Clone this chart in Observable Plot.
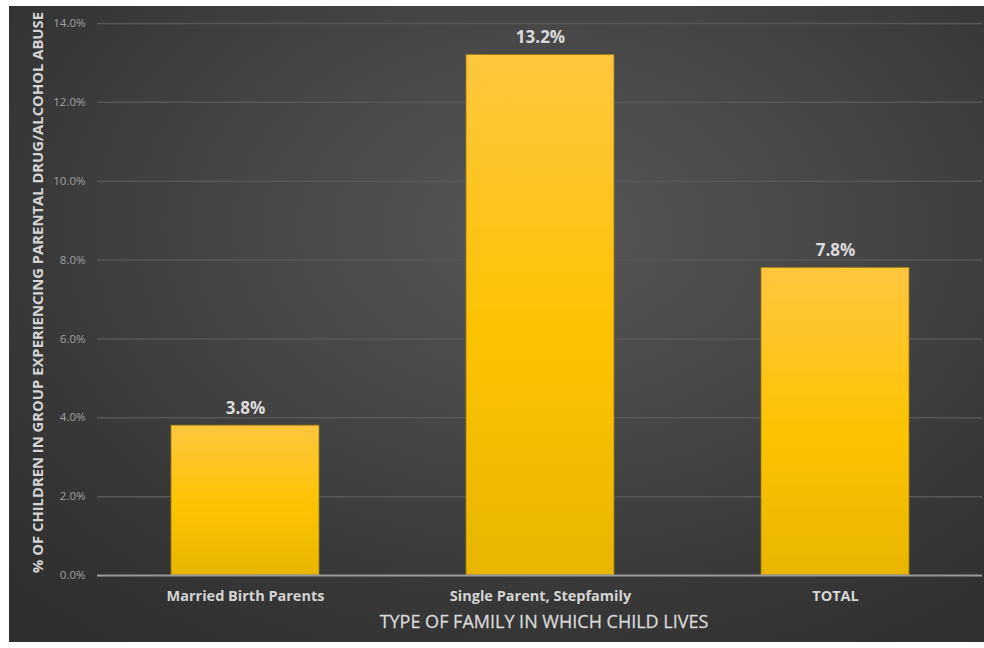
<!DOCTYPE html>
<html>
<head>
<meta charset="utf-8">
<script src="https://cdn.jsdelivr.net/npm/d3@7"></script>
<script src="https://cdn.jsdelivr.net/npm/@observablehq/plot@0.6"></script>
<style>
  html, body { margin: 0; padding: 0; background: #ffffff; }
  #wrap { position: relative; width: 984px; height: 648px; overflow: hidden; }
  #panel {
    position: absolute; left: 9px; top: 6px; width: 975px; height: 636px;
    background: radial-gradient(ellipse 75% 80% at 55% 35%, #565656 0%, #474747 40%, #373737 75%, #2f2f2f 100%);
  }
  #chart { position: absolute; left: 0; top: 0; }
</style>
</head>
<body>
<div id="wrap">
  <div id="panel"></div>
  <div id="chart"></div>
</div>
<script>
const categories = ["Married Birth Parents", "Single Parent, Stepfamily", "TOTAL"];
const values = [3.8, 13.2, 7.8];
const yTicks = [0, 2, 4, 6, 8, 10, 12, 14];
const yTitle = "% OF CHILDREN IN GROUP EXPERIENCING PARENTAL DRUG/ALCOHOL ABUSE";
const xTitle = "TYPE OF FAMILY IN WHICH CHILD LIVES";

const data = categories.map((c, i) => ({category: c, value: values[i]}));
const font = "'Open Sans', Lato, sans-serif";

const plot = Plot.plot({
  width: 984,
  height: 648,
  marginLeft: 97,
  marginRight: 2,
  marginTop: 23,
  marginBottom: 73,
  style: {background: "transparent", fontFamily: font, color: "#d0d0d0"},
  x: {domain: categories, paddingInner: 0.5, paddingOuter: 0.25, label: null},
  y: {domain: [0, 14], label: null},
  marks: [
    Plot.gridY(yTicks.filter(t => t > 0), {stroke: "#575757", strokeOpacity: 1, strokeWidth: 1.5}),
    Plot.axisY({ticks: yTicks, tickSize: 0, tickPadding: 12, tickFormat: d => d.toFixed(1) + "%",
      fontSize: 11.5, fill: "#a0a0a0", label: null}),
    Plot.axisX({tickSize: 0, tickPadding: 15, fontSize: 14.5, fontWeight: "bold", fill: "#d4d4d4", label: null}),
    Plot.barY(data, {x: "category", y: "value", fill: "url(#barGrad)", stroke: "#9c7a12", strokeWidth: 1, strokeOpacity: 0.8}),
    Plot.ruleY([0], {stroke: "#9a9a9a", strokeWidth: 2}),
    Plot.text(data, {x: "category", y: "value", text: d => d.value.toFixed(1) + "%", dy: -17,
      fontSize: 17, fontWeight: "bold", fill: "#dadada"}),
    Plot.text([yTitle], {frameAnchor: "left", textAnchor: "middle", lineAnchor: "middle", dx: -59, dy: -7, rotate: -90,
      fontSize: 14.8, fontWeight: "bold", fill: "#d4d4d4"}),
    Plot.text([xTitle], {frameAnchor: "bottom", textAnchor: "middle", lineAnchor: "middle", dx: 4, dy: 47, fontSize: 18, fill: "#d8d8d8",
      stroke: "#d8d8d8", strokeWidth: 0.3})
  ]
});

const svg = d3.select(plot);
const defs = svg.insert("defs", ":first-child");
const grad = defs.append("linearGradient").attr("id", "barGrad")
  .attr("x1", 0).attr("y1", 0).attr("x2", 0).attr("y2", 1);
grad.append("stop").attr("offset", "0%").attr("stop-color", "#ffc63f");
grad.append("stop").attr("offset", "55%").attr("stop-color", "#fcc300");
grad.append("stop").attr("offset", "100%").attr("stop-color", "#e8b500");

document.getElementById("chart").appendChild(plot);
</script>
</body>
</html>
